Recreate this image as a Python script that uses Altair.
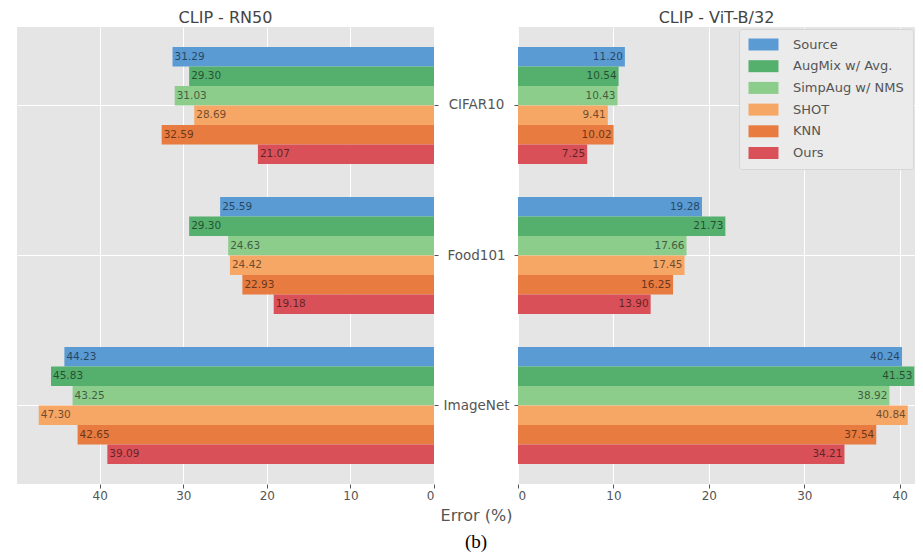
import altair as alt
import pandas as pd

datasets = ["CIFAR10", "Food101", "ImageNet"]
methods = ["Source", "AugMix w/ Avg.", "SimpAug w/ NMS", "SHOT", "KNN", "Ours"]
colors = ["#5A9BD4", "#55B06E", "#8DCD8C", "#F6A766", "#E87B3F", "#DA5058"]

rn50_cifar10 = [31.29, 29.30, 31.03, 28.69, 32.59, 21.07]
rn50_food101 = [25.59, 29.30, 24.63, 24.42, 22.93, 19.18]
rn50_imagenet = [44.23, 45.83, 43.25, 47.30, 42.65, 39.09]

vit_cifar10 = [11.20, 10.54, 10.43, 9.41, 10.02, 7.25]
vit_food101 = [19.28, 21.73, 17.66, 17.45, 16.25, 13.90]
vit_imagenet = [40.24, 41.53, 38.92, 40.84, 37.54, 34.21]

x_ticks = [0, 10, 20, 30, 40]


def frame(series):
    rows = []
    for ds, vals in zip(datasets, series):
        for m, v in zip(methods, vals):
            rows.append({"dataset": ds, "method": m, "value": v})
    return pd.DataFrame(rows)


df_rn = frame([rn50_cifar10, rn50_food101, rn50_imagenet])
df_vit = frame([vit_cifar10, vit_food101, vit_imagenet])

H = 457
y_scale = alt.Scale(domain=datasets, paddingInner=0.22, paddingOuter=0.133)
yoff_scale = alt.Scale(domain=methods, paddingInner=0, paddingOuter=0)
color_scale = alt.Scale(domain=methods, range=colors)

GRAY = "#555555"
FONT = "DejaVu Sans"

# ---- left panel: CLIP - RN50 (reversed x) ----
x_left = alt.X(
    "value:Q",
    scale=alt.Scale(domain=[0, 49.9], reverse=True, nice=False, zero=True),
    axis=alt.Axis(values=x_ticks, title="Error (%)", titleX=459, titleAlign="center",
                  titleAnchor="middle", titlePadding=6, titleFontSize=16,
                  titleFontWeight="normal", titleColor=GRAY, titleFont=FONT),
)
y_left = alt.Y(
    "dataset:N", scale=y_scale, sort=datasets,
    axis=alt.Axis(orient="right", title=None, labelAlign="center", labelPadding=38,
                  tickSize=4, labelFontSize=13.5, grid=True, bandPosition=0.5),
)
base_left = alt.Chart(df_rn).encode(
    x=x_left, y=y_left,
    yOffset=alt.YOffset("method:N", scale=yoff_scale, sort=methods),
)
bars_left = base_left.mark_bar(size=19.5).encode(
    color=alt.Color("method:N", scale=color_scale, sort=methods, legend=None)
)
text_left = base_left.mark_text(align="left", baseline="middle", dx=2, fontSize=10.5,
                                font=FONT, color="#000000", opacity=0.55).encode(
    text=alt.Text("value:Q", format=".2f")
)
left = alt.layer(bars_left, text_left).properties(
    width=417, height=H,
    title=alt.TitleParams("CLIP - RN50", fontSize=16, fontWeight="normal",
                          color="#444444", font=FONT, offset=1),
)

# ---- right panel: CLIP - ViT-B/32 ----
x_right = alt.X(
    "value:Q",
    scale=alt.Scale(domain=[0, 41.6], nice=False, zero=True),
    axis=alt.Axis(values=x_ticks, title=None),
)
y_right = alt.Y(
    "dataset:N", scale=y_scale, sort=datasets,
    axis=alt.Axis(orient="left", title=None, labels=False, tickSize=4, grid=True,
                  bandPosition=0.5),
)
base_right = alt.Chart(df_vit).encode(
    x=x_right, y=y_right,
    yOffset=alt.YOffset("method:N", scale=yoff_scale, sort=methods),
)
bars_right = base_right.mark_bar(size=19.5).encode(
    color=alt.Color(
        "method:N", scale=color_scale, sort=methods,
        legend=alt.Legend(
            title=None, orient="top-right", offset=2,
            symbolType="M-2.5,-1H2.5V1H-2.5Z", symbolSize=144, symbolStrokeWidth=0,
            symbolOpacity=1, symbolOffset=9, labelOffset=23, labelFontSize=13,
            labelColor=GRAY, labelFont=FONT, rowPadding=7.7, padding=9,
            fillColor="#EBEBEB", strokeColor="#D6D6D6", cornerRadius=3,
        ),
    )
)
text_right = base_right.mark_text(align="right", baseline="middle", dx=-2, fontSize=10.5,
                                  font=FONT, color="#000000", opacity=0.55).encode(
    text=alt.Text("value:Q", format=".2f")
)
right = alt.layer(bars_right, text_right).properties(
    width=397, height=H,
    title=alt.TitleParams("CLIP - ViT-B/32", fontSize=16, fontWeight="normal",
                          color="#444444", font=FONT, offset=1),
)

chart = alt.HConcatChart(
    hconcat=[left, right], spacing=84, bounds="flush",
    title=alt.TitleParams("(b)", orient="bottom", anchor="middle", fontSize=19,
                          fontWeight="normal", font="Liberation Serif",
                          color="#000000", offset=10, dx=10),
).resolve_scale(color="independent").properties(
    padding={"left": 9, "top": 2, "right": 0, "bottom": 0},
    background="white",
).configure_view(
    fill="#E5E5E5", stroke=None
).configure_axis(
    domain=False, gridColor="white", gridWidth=1, tickColor=GRAY, labelColor=GRAY,
    labelFont=FONT, labelFontSize=12, labelPadding=2, tickSize=4,
)

chart.save("out.html", embed_options={"renderer": "svg", "actions": False})
